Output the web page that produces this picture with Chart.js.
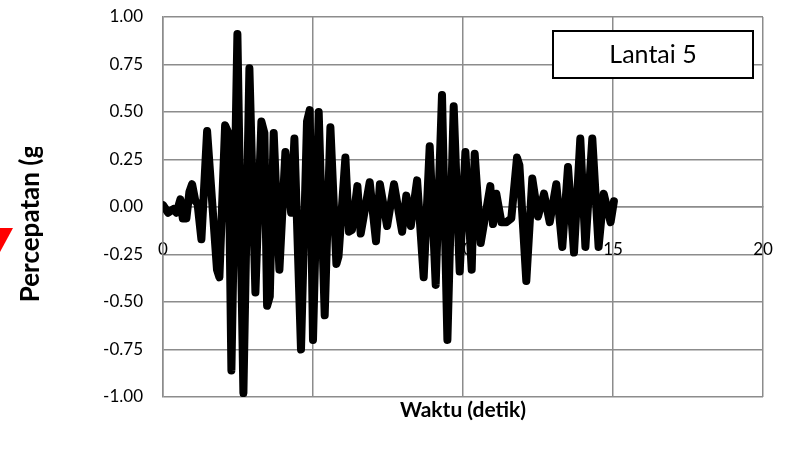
<!DOCTYPE html>
<html>
<head>
<meta charset="utf-8">
<script src="https://cdn.jsdelivr.net/npm/chart.js@4.4.1/dist/chart.umd.min.js"></script>
<style>
  html, body { margin: 0; padding: 0; background: #fff; }
</style>
</head>
<body>
<canvas id="chart1" width="789" height="454"></canvas>
<script>
// data (peaks / troughs of the record)
const waktu = [0.00, 0.17, 0.35, 0.45, 0.58, 0.66, 0.78, 0.88, 0.97, 1.08, 1.15, 1.28, 1.47, 1.80, 1.88,
  2.07, 2.18, 2.28, 2.48, 2.68, 2.88, 3.08, 3.28, 3.38, 3.47, 3.56, 3.69, 3.88, 4.08, 4.27, 4.38,
  4.60, 4.80, 4.89, 5.00, 5.19, 5.39, 5.58, 5.78, 5.85, 6.08, 6.20, 6.30, 6.48, 6.59, 6.89, 7.10,
  7.23, 7.47, 7.70, 7.97, 8.11, 8.26, 8.47, 8.69, 8.89, 9.09, 9.30, 9.48, 9.69, 9.89, 10.08, 10.29,
  10.39, 10.59, 10.91, 11.00, 11.11, 11.28, 11.45, 11.61, 11.80, 11.88, 12.11, 12.31, 12.50, 12.70,
  12.89, 13.11, 13.31, 13.50, 13.70, 13.91, 14.08, 14.31, 14.52, 14.69, 14.92, 15.03];
const percepatan = [0.01, -0.03, -0.01, -0.03, 0.04, -0.06, -0.06, 0.08, 0.12, 0.03, 0.02, -0.17, 0.40, -0.33, -0.37,
  0.43, 0.39, -0.86, 0.91, -0.98, 0.73, -0.45, 0.45, 0.39, -0.52, -0.47, 0.39, -0.33, 0.29, -0.03, 0.36,
  -0.75, 0.45, 0.51, -0.70, 0.50, -0.57, 0.42, -0.30, -0.26, 0.26, -0.13, -0.12, 0.11, -0.14, 0.13, -0.18,
  0.12, -0.10, 0.12, -0.13, 0.06, -0.10, 0.14, -0.37, 0.32, -0.41, 0.59, -0.70, 0.53, -0.34, 0.29, -0.33,
  0.28, -0.19, 0.11, -0.09, 0.07, -0.08, -0.08, -0.06, 0.26, 0.22, -0.39, 0.15, -0.05, 0.07,
  -0.08, 0.12, -0.21, 0.21, -0.24, 0.36, -0.21, 0.36, -0.21, 0.07, -0.08, 0.03];
const xTicks = [0, 5, 10, 15, 20];
const yTicks = [-1, -0.75, -0.5, -0.25, 0, 0.25, 0.5, 0.75, 1];
const seriesName = 'Lantai 5';
const yTitle = 'Percepatan (g)';
const xTitle = 'Waktu (detik)';

Chart.defaults.font.family = 'Lato';
Chart.defaults.color = '#000';

const gridColor = '#8c8c8c';

// legend box, y title and the red marker on the left
const extras = {
  id: 'extras',
  afterDraw(chart) {
    const c = chart.ctx;
    c.save();
    // text box
    c.fillStyle = '#fff';
    c.fillRect(553, 31, 200, 47);
    c.strokeStyle = '#000';
    c.lineWidth = 2;
    c.strokeRect(553, 31, 200, 47);
    c.fillStyle = '#000';
    c.font = '25px Lato';
    c.textAlign = 'center';
    c.textBaseline = 'middle';
    c.fillText(chart.data.datasets[0].label, 653, 55);
    // y title, cut at the top like the original
    c.save();
    c.beginPath();
    c.rect(0, 147, 80, 307);
    c.clip();
    c.translate(39, 220);
    c.rotate(-Math.PI / 2);
    c.font = 'bold 26px Lato';
    c.textAlign = 'center';
    c.textBaseline = 'alphabetic';
    c.fillText(yTitle, 0, 0);
    c.restore();
    // red marker
    c.fillStyle = '#ff0000';
    c.beginPath();
    c.moveTo(0, 228);
    c.lineTo(13, 228);
    c.lineTo(0, 252);
    c.closePath();
    c.fill();
    c.restore();
  }
};

// keep tick padding from pushing the plot area in
function noMargins(s) {
  s.paddingTop = 0; s.paddingBottom = 0;
  s.paddingLeft = 0; s.paddingRight = 0;
}

const ctx = document.getElementById('chart1').getContext('2d');
let myChart1 = new Chart(ctx, {
    type: 'scatter',
    data: {
        datasets: [{
            label: seriesName,
            data: waktu.map((t, i) => ({x: t, y: percepatan[i]})),
            showLine: true,
            borderColor: '#000',
            backgroundColor: '#000',
            borderWidth: 8,
            borderJoinStyle: 'round',
            borderCapStyle: 'round',
            pointRadius: 0,
            tension: 0
        }]
    },
    options: {
        responsive: false,
        animation: false,
        layout: { padding: { top: 17, right: 26, bottom: 0, left: 0 } },
        plugins: { legend: { display: false }, tooltip: { enabled: false } },
        scales: {
            x: {
                type: 'linear',
                position: { y: 0 },
                min: 0, max: 20,
                afterBuildTicks: s => { s.ticks = xTicks.map(v => ({value: v})); },
                ticks: { font: { size: 17 }, padding: 32 },
                grid: { color: gridColor, lineWidth: 1.5, drawTicks: false },
                border: { color: gridColor, width: 1.5 },
                afterFit: noMargins
            },
            x2: {
                type: 'linear',
                position: 'bottom',
                ticks: { display: false },
                grid: { display: false, drawTicks: false },
                border: { display: false },
                title: { display: true, text: xTitle, font: { size: 21, weight: 'bold' }, padding: { top: 0, bottom: 31 } },
                afterFit: s => { noMargins(s); s.height = 57; }
            },
            y: {
                min: -1, max: 1,
                afterBuildTicks: s => { s.ticks = yTicks.map(v => ({value: v})); },
                ticks: { font: { size: 17 }, padding: 20, callback: v => v.toFixed(2) },
                grid: { color: gridColor, lineWidth: 1.5, drawTicks: false },
                border: { color: gridColor, width: 1.5 },
                afterFit: s => { noMargins(s); s.width = 163; }
            }
        }
    },
    plugins: [extras]
});
</script>
</body>
</html>
